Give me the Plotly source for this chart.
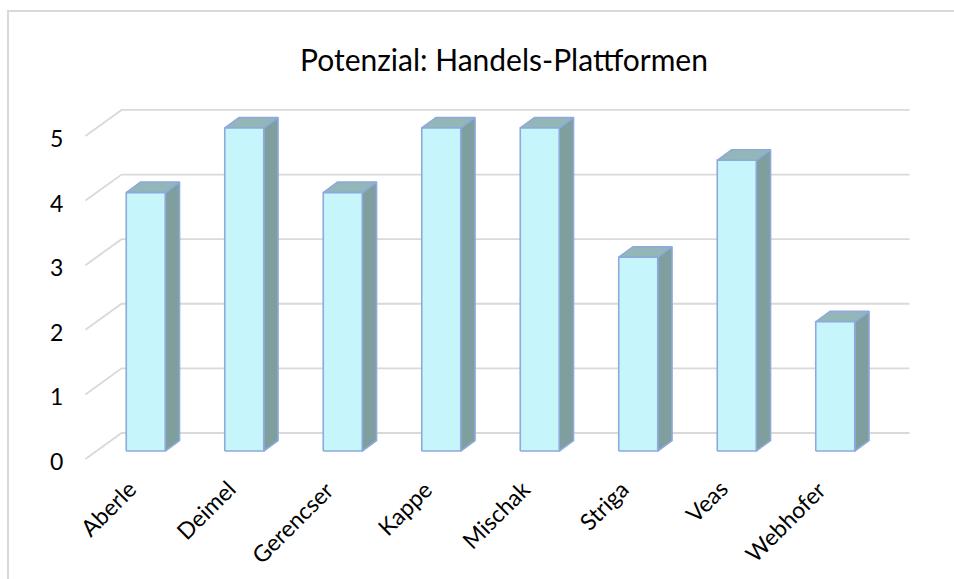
import plotly.graph_objects as go

# ---- data ----
categories = ["Aberle", "Deimel", "Gerencser", "Kappe", "Mischak", "Striga", "Veas", "Webhofer"]
values = [4, 5, 4, 5, 5, 3, 4.5, 2]
y_ticks = [0, 1, 2, 3, 4, 5]
title_text = "Potenzial: Handels-Plattformen"

# ---- styling / pseudo-3D geometry (in axis units) ----
FONT = "Lato"
FRONT_C = "#C6F5FB"
SIDE_C = "#7F9E9E"
TOP_C = "#93B6B6"
EDGE_C = "#8EA9DB"
GRID_C = "#D9D9D9"
HALF_W = 0.198          # half bar width (category units)
DDX, DDY = 0.145, 0.162  # bar depth offset
BACK_DX, BACK_DY = 0.254, 0.279   # back wall offset from bar plane
FRONT_DX, FRONT_DY = -0.112, -0.124  # floor front edge offset from bar plane

n = len(categories)
xs = list(range(n))
left_band, right_band = -0.5, n - 0.5

fig = go.Figure()

# gridlines: back wall horizontals + left diagonals
for t in y_ticks:
    fig.add_trace(go.Scatter(
        x=[left_band + FRONT_DX, left_band + BACK_DX, right_band + BACK_DX],
        y=[t + FRONT_DY, t + BACK_DY, t + BACK_DY],
        mode="lines", line=dict(color=GRID_C, width=1.8),
        hoverinfo="skip", showlegend=False))

# bars
for c, v in zip(xs, values):
    l, r = c - HALF_W, c + HALF_W
    # side face
    fig.add_trace(go.Scatter(
        x=[r, r + DDX, r + DDX, r, r], y=[0, DDY, v + DDY, v, 0],
        fill="toself", fillcolor=SIDE_C, mode="lines",
        line=dict(color=EDGE_C, width=1.6), hoverinfo="skip", showlegend=False))
    # top face
    fig.add_trace(go.Scatter(
        x=[l, r, r + DDX, l + DDX, l], y=[v, v, v + DDY, v + DDY, v],
        fill="toself", fillcolor=TOP_C, mode="lines",
        line=dict(color=EDGE_C, width=1.6), hoverinfo="skip", showlegend=False))
    # front face
    fig.add_trace(go.Scatter(
        x=[l, r, r, l, l], y=[0, 0, v, v, 0],
        fill="toself", fillcolor=FRONT_C, mode="lines",
        line=dict(color=EDGE_C, width=1.6), hoverinfo="skip", showlegend=False))

annotations = []
# y tick labels
for t in y_ticks:
    annotations.append(dict(
        x=left_band + FRONT_DX, y=t + FRONT_DY, xref="x", yref="y",
        text=str(t), showarrow=False, xanchor="right", yanchor="middle",
        xshift=-20, yshift=-2, font=dict(family=FONT, size=23, color="#000000")))
# x category labels
for c, name in zip(xs, categories):
    annotations.append(dict(
        x=c + FRONT_DX, y=FRONT_DY, xref="x", yref="y",
        text=name, showarrow=False, textangle=-45, xanchor="right", yanchor="top",
        xshift=10, yshift=-13, font=dict(family=FONT, size=23, color="#000000")))

fig.update_layout(
    width=954, height=579,
    margin=dict(l=80, r=39, t=100, b=109),
    paper_bgcolor="white", plot_bgcolor="white",
    title=dict(text=title_text, x=504 / 954, xref="container", xanchor="center",
               y=1 - 60 / 579, yref="container", yanchor="middle",
               font=dict(family=FONT, size=30, color="#000000")),
    xaxis=dict(range=[-0.6675, 7.8096], visible=False, fixedrange=True),
    yaxis=dict(range=[-0.294, 5.433], visible=False, fixedrange=True),
    annotations=annotations,
    shapes=[dict(type="rect", xref="paper", yref="paper",
                 x0=(8 - 80) / 835, x1=(970 - 80) / 835,
                 y0=(470 - 600) / 370, y1=(470 - 11) / 370,
                 line=dict(color=GRID_C, width=2), fillcolor="rgba(0,0,0,0)", layer="below")],
    showlegend=False,
)

fig.write_html("out.html")
